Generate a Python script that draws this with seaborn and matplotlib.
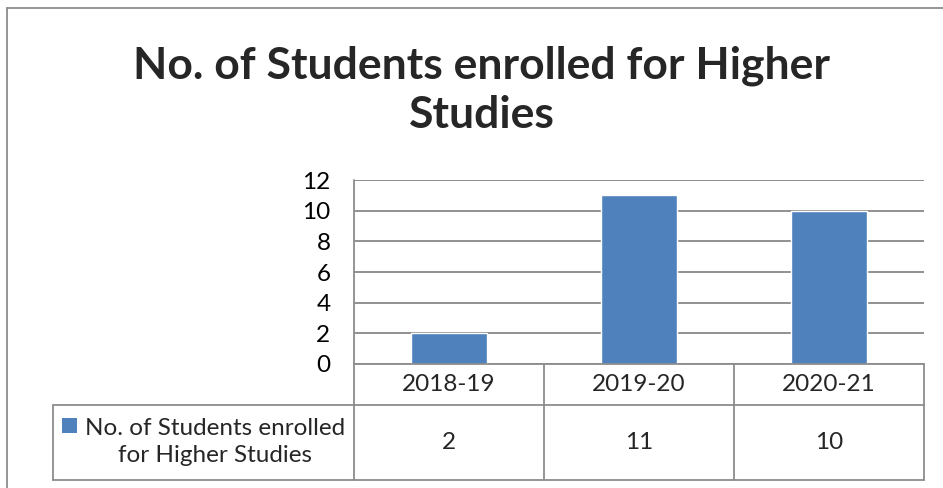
"""Bar chart with Excel-style data table: students enrolled for higher studies."""

import matplotlib

matplotlib.use("Agg")
import matplotlib.pyplot as plt
import matplotlib.transforms as mtransforms
import seaborn as sns
from matplotlib.lines import Line2D
from matplotlib.patches import Rectangle

years = ["2018-19", "2019-20", "2020-21"]
students = [2, 11, 10]
series_name = "No. of Students enrolled\nfor Higher Studies"
title = "No. of Students enrolled for Higher\nStudies"
y_ticks = [0, 2, 4, 6, 8, 10, 12]

BAR = "#4F81BD"
GRID = "#888888"
LINE = "#8C8C8C"
FS = 17.5

sns.set_theme(style="white")
plt.rcParams["font.family"] = ["Lato", "DejaVu Sans"]

fig = plt.figure(figsize=(9.43, 4.88), dpi=100)
ax = fig.add_axes([354 / 943, 1 - 364 / 488, 570 / 943, 184 / 488])

sns.barplot(x=years, y=students, color=BAR, width=0.4, saturation=1, ax=ax)
ax.set_xlim(-0.5, len(years) - 0.5)
ax.set_ylim(0, 12)
ax.set_yticks(y_ticks)
ax.set_yticklabels([str(t) for t in y_ticks], fontsize=FS, color="black")
ax.set_xticks([])
ax.set_xlabel("")
ax.set_ylabel("")
ax.tick_params(axis="y", length=0, pad=17)
ax.yaxis.grid(True, color=GRID, lw=1.3)
ax.set_axisbelow(True)
for side in ["top", "right", "bottom", "left"]:
    ax.spines[side].set_visible(False)

# data table under the plot
blend = mtransforms.blended_transform_factory(ax.transData, ax.transAxes)
row1_top, row2_top, table_bottom = 0.0, -0.223, -0.630
left_edge = -0.528

def hline(x0, x1, y, transform):
    ax.add_line(Line2D([x0, x1], [y, y], color=LINE, lw=1.3, transform=transform, clip_on=False))

def vline(x, y0, y1, transform):
    ax.add_line(Line2D([x, x], [y0, y1], color=LINE, lw=1.3, transform=transform, clip_on=False))

hline(0, 1, row1_top, ax.transAxes)
hline(left_edge, 1, row2_top, ax.transAxes)
hline(left_edge, 1, table_bottom, ax.transAxes)
vline(0, table_bottom, 1, ax.transAxes)
vline(left_edge, table_bottom, row2_top, ax.transAxes)
for i in range(1, len(years) + 1):
    vline(i - 0.5, table_bottom, row1_top, blend)

for i, (yr, val) in enumerate(zip(years, students)):
    ax.text(i, -0.109, yr, transform=blend, ha="center", va="center", fontsize=FS)
    ax.text(i, -0.424, str(val), transform=blend, ha="center", va="center", fontsize=FS)

ax.add_patch(Rectangle((-0.512, -0.375), 0.026, 0.082, transform=ax.transAxes,
                       facecolor=BAR, edgecolor="none", clip_on=False))
ax.text(-0.244, -0.424, series_name, transform=ax.transAxes, ha="center", va="center",
        fontsize=FS, linespacing=1.4, multialignment="center")

fig.text(0.511, 1 - 90 / 488, title, ha="center", va="center", fontsize=32,
         fontweight="bold", linespacing=1.26)

# outer chart border
bx, by = 7 / 943, 1 - 8 / 488
fig.add_artist(Line2D([bx, bx], [0, by], color=LINE, lw=1.3, transform=fig.transFigure))
fig.add_artist(Line2D([bx, 1], [by, by], color=LINE, lw=1.3, transform=fig.transFigure))

fig.savefig("out.png", dpi=100, facecolor="white")
